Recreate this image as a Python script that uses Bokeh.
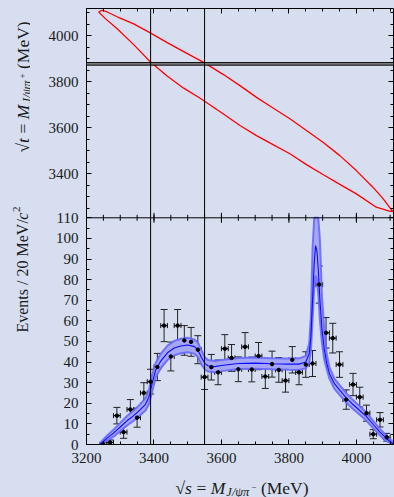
from bokeh.plotting import figure
from bokeh.models import (Range1d, LinearAxis, Span, Label, ColumnDataSource,
                          Whisker, TeeHead, FixedTicker, BoxAnnotation)
from bokeh.layouts import column, row
from bokeh.embed import file_html
from bokeh.resources import INLINE

# ---------------- data ----------------
bin_center = [3250, 3270, 3290, 3310, 3330, 3350, 3370, 3390, 3410, 3430,
              3450, 3470, 3490, 3510, 3530, 3550, 3570, 3590, 3610, 3630,
              3650, 3670, 3690, 3710, 3730, 3750, 3770, 3790, 3810, 3830,
              3850, 3870, 3890, 3910, 3930, 3950, 3970, 3990, 4010, 4030,
              4050, 4070, 4090]
events = [0, 1, 14, 6, 17, 13, 25, 30.5, 37.6, 57.7,
          42.7, 57.7, 50.5, 49.8, 46, 32.7, 37.5, 35, 46.5, 42,
          36.5, 47.4, 36.4, 42.9, 33, 39, 36.2, 31, 41.1, 35,
          38.8, 39.3, 77.6, 54.2, 51.6, 38.8, 21.8, 29.1, 23, 15.2,
          5, 12, 3.5]
events_err = [1, 1.2, 4, 3, 4.8, 4.6, 5, 6, 6.6, 7.8,
              7, 7.8, 7.2, 7, 6.8, 6, 6.2, 6, 6.8, 6.5,
              6, 6.9, 6, 6.6, 5.8, 6.3, 6, 5.6, 6.4, 6,
              6.2, 6.3, 9, 7.4, 7.2, 6.2, 4.7, 5.4, 4.8, 3.9,
              2.2, 3.5, 1.9]
bin_half = 10

fit_x = [3240, 3260, 3280, 3300, 3320, 3340, 3360, 3375, 3385, 3395,
         3405, 3420, 3440, 3460, 3480, 3500, 3520, 3530, 3540, 3550,
         3560, 3580, 3600, 3650, 3700, 3750, 3800, 3830, 3850, 3860,
         3865, 3870, 3875, 3879, 3883, 3887, 3892, 3898, 3905, 3912,
         3920, 3935, 3950, 3970, 3990, 4010, 4030, 4050, 4070, 4090, 4110]
fit_y = [0, 3, 5.5, 8.5, 11.5, 14, 17, 19.5, 23, 30,
         36, 40.5, 44.5, 46.8, 47.8, 48.3, 47.5, 46, 42.5, 39.5,
         38.2, 37.8, 38.3, 39.3, 39.5, 39.2, 39, 39, 40, 44,
         52, 70, 88, 96.5, 94, 85, 70, 56, 46, 39.5,
         34.5, 29.5, 26.5, 22.6, 19.4, 16.5, 13.5, 9.7, 6, 2.8, 0]
fit_lo = [0, 1.8, 3.8, 6.5, 9.2, 11.5, 14.3, 16.5, 19.5, 26,
          32.5, 37, 41, 43.3, 44.3, 44.8, 44, 42.5, 39, 36.5,
          35.4, 35.1, 35.6, 36.6, 36.8, 36.5, 36.3, 36.2, 37, 39.5,
          45, 60, 76, 82, 80, 73, 60, 49, 41, 36.5,
          32, 27, 24.1, 20.3, 17.2, 14.4, 11.5, 7.9, 4.4, 1.5, 0]
# upper edge of the error band as visible (it leaves the frame at the peak)
fit_hi = [0.8, 4.2, 7.2, 10.5, 13.8, 16.5, 19.7, 22.5, 26.5, 34,
          39.5, 44, 48, 50.3, 51.3, 51.8, 51, 49.5, 46, 42.5,
          41, 40.5, 41, 42, 42.2, 41.9, 41.7, 41.8, 43, 49,
          62, 95, 110, 110, 110, 110, 99, 72, 55, 44,
          37.5, 32, 28.9, 24.9, 21.6, 18.6, 15.5, 11.5, 7.6, 4.1, 1]

# kinematic boundary (sqrt(s), sqrt(t)), traced around the closed curve
boundary_s = [3236, 3245, 3260, 3291, 3340, 3389, 3438, 3488, 3550, 3606,
              3655, 3704, 3753, 3803, 3852, 3901, 3951, 4000, 4049, 4079,
              4098, 4108, 4098, 4059, 4000, 3951, 3901, 3852, 3803, 3753,
              3704, 3655, 3606, 3537, 3488, 3438, 3389, 3340, 3291, 3256, 3236]
boundary_t = [4103, 4110, 4104, 4082, 4051, 4012, 3971, 3931, 3882, 3831,
              3783, 3732, 3686, 3639, 3588, 3537, 3479, 3414, 3342, 3292,
              3255, 3236, 3238, 3255, 3313, 3354, 3397, 3440, 3487, 3527,
              3566, 3610, 3660, 3728, 3772, 3826, 3887, 3961, 4030, 4074, 4103]

zc_band = [3872, 3883]
vlines_s = [3390, 3550]

x_major = [3200, 3400, 3600, 3800, 4000]
x_minor = [3200 + 50 * i for i in range(19)]
t_major = [3400, 3600, 3800, 4000]
t_minor = [3250 + 50 * i for i in range(18)]
ev_major = list(range(0, 111, 10))
ev_minor = list(range(5, 110, 10))

# ---------------- layout constants ----------------
BG = "#d6def0"
SERIF = "Liberation Serif"
TICK_FS = "15px"
INK = "#1a1a1a"

S_RANGE = (3200, 4110)
EV_MAX = 110
T_LO, T_HI = 3209, 4118
FRAME_H = 436
BOTTOM_PX = 226.7                      # height of the lower panel in px
frac = BOTTOM_PX / FRAME_H
EV_TOP = EV_MAX / frac                 # events-scale value at the frame top
T_START = T_LO - (T_HI - T_LO) * frac / (1 - frac)   # t-scale value at frame bottom
PX = EV_TOP / FRAME_H                  # one pixel in events units
MAIN_H = 470


def ev_of_t(t):
    return (t - T_START) / (T_HI - T_START) * EV_TOP


# ---------------- main figure (both panels) ----------------
p = figure(width=364, height=MAIN_H, x_range=Range1d(*S_RANGE), y_range=Range1d(0, EV_TOP),
           output_backend="svg", toolbar_location=None,
           x_axis_location=None, y_axis_location=None,
           min_border_left=56, min_border_right=1, min_border_top=8,
           min_border_bottom=MAIN_H - 8 - FRAME_H)
p.extra_y_ranges = {"t": Range1d(T_START, T_HI)}
p.background_fill_color = BG
p.border_fill_color = BG
p.outline_line_color = None
p.xgrid.visible = False
p.ygrid.visible = False

y_ticks = ev_major + [ev_of_t(t) for t in t_major]
y_minor = ev_minor + [ev_of_t(t) for t in t_minor if T_LO < t < T_HI]
y_labels = {v: str(v) for v in ev_major}
y_labels.update({ev_of_t(t): str(t) for t in t_major})


def style_axis(ax, ticks, minor, labels, overrides=None):
    ax.ticker = FixedTicker(ticks=ticks, minor_ticks=minor)
    ax.axis_line_color = "black"
    ax.axis_line_width = 1
    ax.major_tick_line_color = "black"
    ax.minor_tick_line_color = "black"
    ax.major_tick_in = 5
    ax.major_tick_out = 0
    ax.minor_tick_in = 3
    ax.minor_tick_out = 0
    ax.axis_label = None
    if labels:
        ax.major_label_text_font = SERIF
        ax.major_label_text_font_size = TICK_FS
        ax.major_label_text_color = INK
        ax.major_label_standoff = 8
        if overrides:
            ax.major_label_overrides = overrides
    else:
        ax.major_label_text_font_size = "1px"
        ax.major_label_text_color = None
        ax.major_label_standoff = 0


ax = LinearAxis(); style_axis(ax, y_ticks, y_minor, True, y_labels); p.add_layout(ax, "left")
ax = LinearAxis(); style_axis(ax, y_ticks, y_minor, False); p.add_layout(ax, "right")
ax = LinearAxis(); style_axis(ax, x_major, x_minor, True); p.add_layout(ax, "below")
ax = LinearAxis(); style_axis(ax, x_major, x_minor, False); p.add_layout(ax, "above")

# divider between the panels with its ticks (up into top panel, down into lower panel)
p.add_layout(Span(location=EV_MAX, dimension="width", line_color="black", line_width=1))
p.segment(x0=x_major, x1=x_major, y0=[EV_MAX - 5 * PX] * len(x_major),
          y1=[EV_MAX + 5 * PX] * len(x_major), line_color="black", line_width=1)
p.segment(x0=x_minor, x1=x_minor, y0=[EV_MAX - 3 * PX] * len(x_minor),
          y1=[EV_MAX + 3 * PX] * len(x_minor), line_color="black", line_width=1)

# top panel
p.add_layout(BoxAnnotation(bottom=zc_band[0], top=zc_band[1], y_range_name="t",
                           fill_color="#8a8a8a", fill_alpha=1.0, line_color=None))
for v in zc_band:
    p.add_layout(Span(location=v, dimension="width", y_range_name="t",
                      line_color="black", line_width=1))
p.line(boundary_s, boundary_t, y_range_name="t", line_color="#ff0000", line_width=1.3)

# lower panel
p.varea(x=fit_x, y1=fit_lo, y2=fit_hi, fill_color="#a6a6f6", fill_alpha=1.0)
p.line(fit_x, fit_lo, line_color="#6464ff", line_width=2, line_alpha=0.85)
p.line(fit_x, fit_hi, line_color="#6464ff", line_width=2, line_alpha=0.85)
p.line(fit_x, fit_y, line_color="#0a0aff", line_width=1.1)

src = ColumnDataSource(dict(
    x=bin_center, y=events,
    ylo=[v - e for v, e in zip(events, events_err)],
    yhi=[v + e for v, e in zip(events, events_err)],
    xlo=[c - bin_half for c in bin_center],
    xhi=[c + bin_half for c in bin_center]))
p.add_layout(Whisker(source=src, base="x", lower="ylo", upper="yhi", dimension="height",
                     line_color="#222222", line_width=1,
                     upper_head=TeeHead(size=7, line_color="#222222", line_width=1),
                     lower_head=TeeHead(size=7, line_color="#222222", line_width=1)))
p.add_layout(Whisker(source=src, base="y", lower="xlo", upper="xhi", dimension="width",
                     line_color="#111111", line_width=1.2,
                     upper_head=TeeHead(size=5, line_color="#111111", line_width=1),
                     lower_head=TeeHead(size=5, line_color="#111111", line_width=1)))
p.scatter("x", "y", source=src, size=3.5, color="black")

# vertical lines through both panels
for v in vlines_s:
    p.add_layout(Span(location=v, dimension="height", line_color="black", line_width=1))

# ---------------- axis titles (own strips, so they are not clipped) ----------------
TW = {'√': 0.549, 's': 0.389, 't': 0.278, '=': 0.564, 'M': 0.86,
      'J': 0.444, '/': 0.278, 'ψ': 0.69, 'π': 0.55, '+': 0.564, '−': 0.564,
      '(': 0.333, ')': 0.333, 'e': 0.444, 'V': 0.722, 'E': 0.611, 'v': 0.5,
      'n': 0.5, 'c': 0.444, '2': 0.5, '0': 0.5, ' ': 0.25}


def twidth(txt, size):
    return sum(TW.get(ch, 0.5) for ch in txt) * size


def add_text_pieces(fig, pieces, x0, y0, vertical=False):
    """pieces: (text, size, style, baseline shift px, gap before px)"""
    pos = 0.0
    for txt, size, style, shift, gap in pieces:
        pos += gap
        if vertical:
            lab = Label(x=x0 - shift, y=y0 + pos, angle=90, angle_units="deg")
        else:
            lab = Label(x=x0 + pos, y=y0 + shift)
        lab.x_units = "screen"
        lab.y_units = "screen"
        lab.text = txt
        lab.text_font = SERIF
        lab.text_font_size = f"{size}px"
        lab.text_font_style = style
        lab.text_color = INK
        lab.text_align = "left"
        lab.text_baseline = "alphabetic"
        fig.add_layout(lab)
        pos += twidth(txt, size)


def strip(width, height):
    f = figure(width=width, height=height, x_range=Range1d(0, 1), y_range=Range1d(0, 1),
               output_backend="svg", toolbar_location=None,
               x_axis_location=None, y_axis_location=None, min_border=0,
               min_border_left=0, min_border_right=0, min_border_top=0, min_border_bottom=0)
    f.background_fill_color = BG
    f.border_fill_color = BG
    f.outline_line_color = None
    f.xgrid.visible = False
    f.ygrid.visible = False
    return f


F_AX, F_SUB, F_SUP = 17.5, 12.5, 9

left = strip(30, MAIN_H)
add_text_pieces(left, [("√", F_AX, "normal", 0, 0), ("t", F_AX, "italic", 0, 0),
                       ("=", F_AX, "normal", 0, 4.5), ("M", F_AX, "italic", 0, 4.5),
                       ("J/ψπ", F_SUB, "italic", -4, 0.5), ("+", F_SUP, "normal", 0.5, 0.5),
                       ("(MeV)", F_AX, "normal", 0, 4.5)], 22, MAIN_H - 178, vertical=True)
add_text_pieces(left, [("Events", 16, "normal", 0, 0), ("/", 16, "normal", 0, 4),
                       ("20", 16, "normal", 0, 4), ("MeV/", 16, "normal", 0, 4),
                       ("c", 16, "italic", 0, 0), ("2", 11, "normal", 6.5, 0.5)],
                22, MAIN_H - 358, vertical=True)

bottom = strip(394, 497 - MAIN_H)
add_text_pieces(bottom, [("√", F_AX, "normal", 0, 0), ("s", F_AX, "italic", 0, 0),
                         ("=", F_AX, "normal", 0, 4.5), ("M", F_AX, "italic", 0, 4.5),
                         ("J/ψπ", F_SUB, "italic", -4, 0.5), ("−", F_SUP, "normal", 0.5, 0.5),
                         ("(MeV)", F_AX, "normal", 0, 4.5)], 175, 10)

layout = column(row(left, p, spacing=0), bottom, spacing=0)
layout.styles = {"background-color": BG}
open("out.html", "w").write(file_html(layout, INLINE))
